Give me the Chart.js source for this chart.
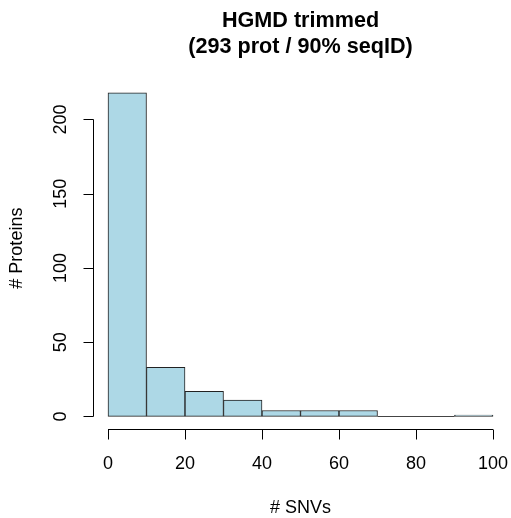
<!DOCTYPE html>
<html>
<head>
<meta charset="utf-8">
<script src="https://cdn.jsdelivr.net/npm/chart.js@4/dist/chart.umd.min.js"></script>
<style>
  html, body { margin: 0; padding: 0; background: #fff; }
  #wrap { width: 511px; height: 518px; }
</style>
</head>
<body>
<div id="wrap"><canvas id="hist" width="511" height="518"></canvas></div>
<script>
// histogram bins (# SNVs) and counts (# proteins)
const binStarts = [0, 10, 20, 30, 40, 50, 60, 70, 80, 90];
const binWidth = 10;
const counts = [218, 33, 17, 11, 4, 4, 4, 0, 0, 1];
const xTicks = [0, 20, 40, 60, 80, 100];
const yTicks = [0, 50, 100, 150, 200];
const titleLines = ['HGMD trimmed', '(293 prot / 90% seqID)'];
const xLabel = '# SNVs';
const yLabel = '# Proteins';

const FONT = "'Liberation Sans', Arial, Helvetica, sans-serif";

// R-style axes, titles and empty bins drawn over the chart area
const rAxes = {
  id: 'rAxes',
  afterDatasetsDraw(chart) {
    const { ctx, chartArea: a, scales: { x, y } } = chart;
    ctx.save();
    ctx.fillStyle = '#000';
    ctx.lineWidth = 1;

    // zero-height bins show as a flat line
    ctx.strokeStyle = '#444';
    binStarts.forEach((b, i) => {
      if (counts[i] === 0) {
        const py = Math.round(y.getPixelForValue(0)) + 0.5;
        ctx.beginPath();
        ctx.moveTo(x.getPixelForValue(b), py);
        ctx.lineTo(x.getPixelForValue(b + binWidth), py);
        ctx.stroke();
      }
    });
    ctx.strokeStyle = '#000';

    // x axis
    const ay = Math.round(a.bottom) + 0.5;
    ctx.beginPath();
    ctx.moveTo(x.getPixelForValue(xTicks[0]), ay);
    ctx.lineTo(x.getPixelForValue(xTicks[xTicks.length - 1]), ay);
    xTicks.forEach(t => {
      const px = Math.round(x.getPixelForValue(t)) + 0.5;
      ctx.moveTo(px, ay);
      ctx.lineTo(px, ay + 10);
    });
    ctx.stroke();
    ctx.font = '18px ' + FONT;
    ctx.textAlign = 'center';
    ctx.textBaseline = 'middle';
    xTicks.forEach(t => ctx.fillText(String(t), x.getPixelForValue(t), 464));
    ctx.fillText(xLabel, (x.getPixelForValue(0) + x.getPixelForValue(100)) / 2, 508);

    // y axis
    const ax = Math.round(a.left) + 0.5;
    ctx.beginPath();
    ctx.moveTo(ax, y.getPixelForValue(yTicks[0]));
    ctx.lineTo(ax, y.getPixelForValue(yTicks[yTicks.length - 1]));
    yTicks.forEach(t => {
      const py = Math.round(y.getPixelForValue(t)) + 0.5;
      ctx.moveTo(ax, py);
      ctx.lineTo(ax - 10, py);
    });
    ctx.stroke();
    yTicks.forEach(t => {
      ctx.save();
      ctx.translate(61, y.getPixelForValue(t));
      ctx.rotate(-Math.PI / 2);
      ctx.fillText(String(t), 0, 0);
      ctx.restore();
    });
    ctx.save();
    ctx.translate(17, (y.getPixelForValue(yTicks[0]) + a.top) / 2);
    ctx.rotate(-Math.PI / 2);
    ctx.fillText(yLabel, 0, 0);
    ctx.restore();

    // title
    ctx.font = 'bold 21.6px ' + FONT;
    const cx = (x.getPixelForValue(0) + x.getPixelForValue(100)) / 2;
    ctx.fillText(titleLines[0], cx, 21);
    ctx.fillText(titleLines[1], cx, 47);
    ctx.restore();
  }
};

new Chart(document.getElementById('hist'), {
  type: 'bar',
  data: {
    datasets: [{
      data: binStarts.map((b, i) => ({ x: b + binWidth / 2, y: counts[i] })),
      backgroundColor: '#ADD8E6',
      borderColor: '#222',
      borderWidth: 1,
      borderSkipped: false,
      barPercentage: 1,
      categoryPercentage: 1
    }]
  },
  options: {
    responsive: false,
    animation: false,
    layout: { padding: { left: 92.6, right: 2.6, top: 79.8, bottom: 88.6 } },
    plugins: { legend: { display: false }, tooltip: { enabled: false } },
    scales: {
      x: { type: 'linear', min: -4, max: 104, offset: false, display: false },
      y: { min: -8.72, max: 226.72, display: false }
    }
  },
  plugins: [rAxes]
});
</script>
</body>
</html>
